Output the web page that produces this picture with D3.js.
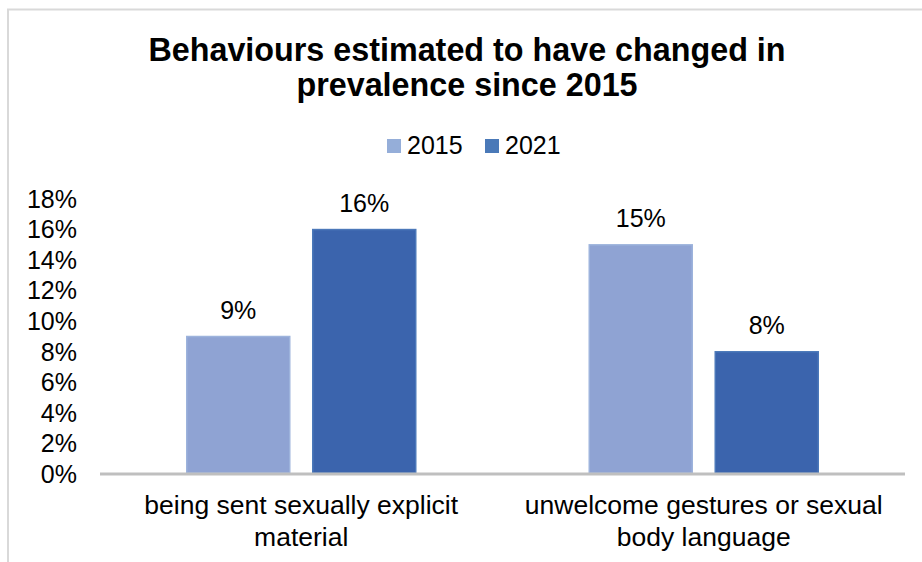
<!DOCTYPE html>
<html>
<head>
<meta charset="utf-8">
<script src="https://cdn.jsdelivr.net/npm/d3@7"></script>
<style>
  html, body { margin: 0; padding: 0; background: #fff; }
  text { font-family: "Liberation Sans", Arial, sans-serif; fill: #000; }
</style>
</head>
<body>
<script>
// données
const categories = [
    ["being sent sexually explicit", "material"],
    ["unwelcome gestures or sexual", "body language"]
];
const years = ["2015", "2021"];
const values2015 = [9, 15];
const values2021 = [16, 8];
const yTicks = [0, 2, 4, 6, 8, 10, 12, 14, 16, 18];
const titleLines = ["Behaviours estimated to have changed in", "prevalence since 2015"];

const width = 922;
const height = 562;
const plot = { left: 100, right: 905, top: 198.5, bottom: 473.5 };

const colors = { "2015": { fill: "#8fa3d3", edge: "#9db3dc", key: "#95aed9" },
                 "2021": { fill: "#3b64ad", edge: "#4b78b9", key: "#4a79b8" } };

const svg = d3.select("body").append("svg")
    .attr("width", width)
    .attr("height", height);

// cadre du graphique (coupé à droite et en bas)
svg.append("path")
   .attr("d", `M8,${height} L8,9.5 L${width},9.5`)
   .attr("fill", "none")
   .attr("stroke", "#d9d9d9")
   .attr("stroke-width", 2);

// titre
svg.append("text")
   .attr("text-anchor", "middle")
   .attr("font-weight", "bold")
   .attr("font-size", 32.3)
   .selectAll("tspan")
   .data(titleLines)
   .join("tspan")
   .attr("x", 467)
   .attr("y", (d, i) => 61 + i * 35)
   .text(d => d);

// échelles
const x0 = d3.scaleBand()
             .domain(d3.range(categories.length))
             .range([plot.left, plot.right])
             .paddingInner(0.4286)
             .paddingOuter(0.2143);

const x1 = d3.scaleBand()
             .domain(years)
             .range([0, x0.bandwidth()])
             .paddingInner(0.1746);

const y = d3.scaleLinear()
            .domain([0, 18])
            .range([plot.bottom, plot.top]);

// axe Y (étiquettes seulement)
const yAxis = svg.append("g")
    .attr("transform", "translate(77,0)")
    .call(d3.axisLeft(y).tickValues(yTicks).tickSize(0).tickPadding(0).tickFormat(d => d + "%"));
yAxis.select(".domain").remove();
yAxis.selectAll("text")
     .attr("font-size", 25)
     .attr("font-family", "Liberation Sans, Arial, sans-serif")
     .attr("fill", "#000")
     .attr("dy", "0.35em");

// barres
const rows = categories.map((c, i) => ({ i, vals: { "2015": values2015[i], "2021": values2021[i] } }));

const groups = svg.selectAll(".group")
    .data(rows)
    .join("g")
    .attr("class", "group")
    .attr("transform", d => `translate(${x0(d.i)},0)`);

groups.selectAll("rect")
      .data(d => years.map(yr => ({ yr, v: d.vals[yr] })))
      .join("rect")
      .attr("x", d => x1(d.yr) + 0.5)
      .attr("y", d => y(d.v) + 0.5)
      .attr("width", x1.bandwidth() - 1)
      .attr("height", d => y(0) - y(d.v) - 1)
      .attr("fill", d => colors[d.yr].fill)
      .attr("stroke", d => colors[d.yr].edge)
      .attr("stroke-width", 1.5);

groups.selectAll(".lbl")
      .data(d => years.map(yr => ({ yr, v: d.vals[yr] })))
      .join("text")
      .attr("class", "lbl")
      .attr("x", d => x1(d.yr) + x1.bandwidth() / 2)
      .attr("y", d => y(d.v) - 17)
      .attr("text-anchor", "middle")
      .attr("font-size", 25)
      .text(d => d.v + "%");

// ligne de base
svg.append("line")
   .attr("x1", plot.left)
   .attr("x2", plot.right)
   .attr("y1", y(0) + 0.5)
   .attr("y2", y(0) + 0.5)
   .attr("stroke", "#bfbfbf")
   .attr("stroke-width", 3);

// étiquettes des catégories
svg.selectAll(".cat")
   .data(categories)
   .join("text")
   .attr("class", "cat")
   .attr("text-anchor", "middle")
   .attr("font-size", 26.5)
   .selectAll("tspan")
   .data((d, i) => d.map(line => ({ line, i })))
   .join("tspan")
   .attr("x", d => x0(d.i) + x0.bandwidth() / 2)
   .attr("y", (d, j) => 514 + j * 32)
   .text(d => d.line);

// légende
const legend = svg.append("g");
const legendX = [387, 485];
years.forEach((yr, i) => {
    legend.append("rect")
          .attr("x", legendX[i])
          .attr("y", 139)
          .attr("width", 14)
          .attr("height", 14)
          .attr("fill", colors[yr].key);
    legend.append("text")
          .attr("x", legendX[i] + 20)
          .attr("y", 154)
          .attr("font-size", 25)
          .text(yr);
});
</script>
</body>
</html>
